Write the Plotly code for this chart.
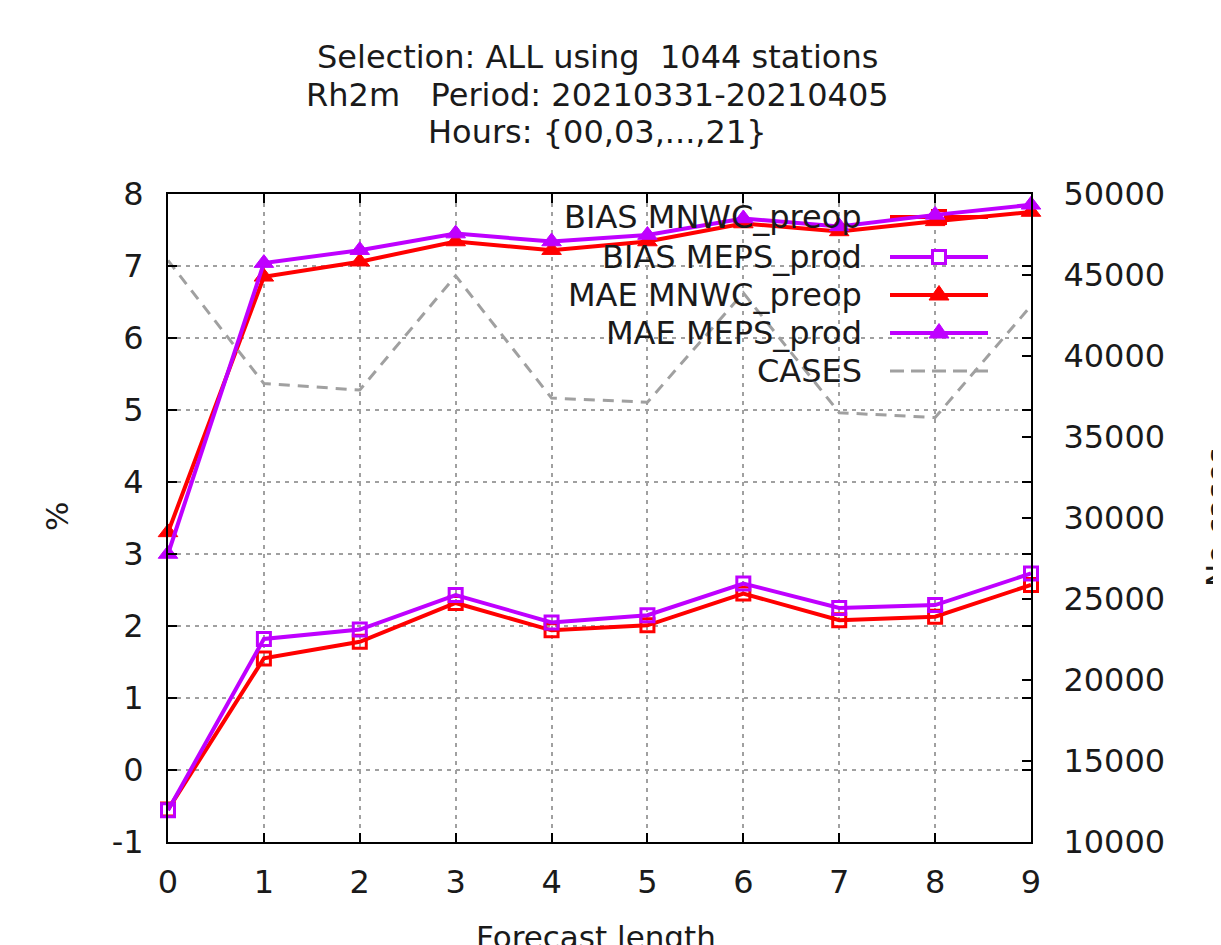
import plotly.graph_objects as go

# ---------------- data ----------------
lead = [0, 1, 2, 3, 4, 5, 6, 7, 8, 9]
bias_mnwc = [-0.55, 1.55, 1.78, 2.32, 1.94, 2.01, 2.45, 2.08, 2.13, 2.57]
bias_meps = [-0.56, 1.82, 1.95, 2.43, 2.05, 2.15, 2.59, 2.25, 2.29, 2.73]
mae_mnwc = [3.30, 6.85, 7.06, 7.34, 7.22, 7.34, 7.59, 7.48, 7.62, 7.75]
mae_meps = [3.00, 7.04, 7.22, 7.45, 7.34, 7.43, 7.66, 7.55, 7.71, 7.85]
cases = [45900, 38300, 37900, 44950, 37400, 37150, 43900, 36500, 36200, 43100]

names = ["BIAS MNWC_preop", "BIAS MEPS_prod", "MAE MNWC_preop", "MAE MEPS_prod", "CASES"]
x_ticks = list(range(0, 10))
y1_ticks = list(range(-1, 9))
y2_ticks = list(range(10000, 50001, 5000))

title_lines = ["Selection: ALL using\u00a0\u00a01044 stations",
               "Rh2m\u00a0\u00a0\u00a0Period: 20210331-20210405",
               "Hours: {00,03,...,21}"]

# ---------------- style ----------------
RED = "#ff0000"
PURP = "#bf00ff"
GRAY = "#a0a0a0"
FONT = "DejaVu Sans"
TXT = "#1a1a1a"
OFF = 8  # page body margin
W, H = 1221 - OFF, 945 - OFF
# plot area in window pixels
L, R, T, B = 168, 1031, 194, 842


def px(xp):
    return (xp - L) / (R - L)


def py(yp):
    return (B - yp) / (B - T)


fig = go.Figure()

series = [
    (bias_mnwc, RED, "square-open", 13),
    (bias_meps, PURP, "square-open", 13),
    (mae_mnwc, RED, "triangle-up", 17),
    (mae_meps, PURP, "triangle-up", 17),
]
for (vals, col, sym, sz), nm in zip(series, names[:4]):
    fig.add_trace(go.Scatter(
        x=lead, y=vals, name=nm, mode="lines+markers", yaxis="y",
        line=dict(color=col, width=4),
        marker=dict(symbol=sym, size=sz, color=col,
                    line=dict(color=col, width=3 if "open" in sym else 1)),
        showlegend=False, cliponaxis=False,
    ))

fig.add_trace(go.Scatter(
    x=lead, y=cases, name=names[4], mode="lines", yaxis="y2",
    line=dict(color=GRAY, width=3, dash="11px,8px"),
    showlegend=False,
))

axis_common = dict(
    showline=True, linecolor="black", linewidth=2,
    ticks="inside", ticklen=9, tickwidth=2, tickcolor="black",
    tickfont=dict(family=FONT, size=32, color=TXT),
    zeroline=False,
)

fig.update_layout(
    width=W, height=H,
    margin=dict(l=L - OFF, r=W - (R - OFF), t=T - OFF, b=H - (B - OFF), pad=0),
    paper_bgcolor="white", plot_bgcolor="rgba(0,0,0,0)",
    font=dict(family=FONT, color=TXT),
    xaxis=dict(range=[0, 9], tickmode="array", tickvals=x_ticks,
               ticktext=[str(v) for v in x_ticks], mirror="ticks",
               showgrid=True, gridcolor=GRAY, gridwidth=1.5, griddash="4px,5px",
               ticklabelstandoff=11, **axis_common),
    yaxis=dict(range=[-1, 8], tickmode="array", tickvals=y1_ticks,
               ticktext=[str(v) for v in y1_ticks], mirror="ticks",
               showgrid=True, gridcolor=GRAY, gridwidth=1.5, griddash="4px,5px",
               ticklabelstandoff=16, **axis_common),
    yaxis2=dict(range=[10000, 50000], tickmode="array", tickvals=y2_ticks,
                ticktext=[str(v) for v in y2_ticks], overlaying="y", side="right",
                showgrid=False, ticklabelstandoff=24, **axis_common),
)

ann = []
# title, one annotation per line
for line, yc in zip(title_lines, [57, 95, 132]):
    ann.append(dict(text=line, xref="paper", yref="paper",
                    x=px(597), y=py(yc), xanchor="center", yanchor="middle",
                    showarrow=False, font=dict(family=FONT, size=32, color=TXT)))
# axis titles
ann.append(dict(text="%", xref="paper", yref="paper", x=px(57), y=py(517),
                textangle=-90, showarrow=False, xanchor="center", yanchor="middle",
                font=dict(family=FONT, size=31, color=TXT)))
ann.append(dict(text="No cases", xref="paper", yref="paper", x=px(1217), y=py(518),
                textangle=-90, showarrow=False, xanchor="center", yanchor="middle",
                font=dict(family=FONT, size=31, color=TXT)))
ann.append(dict(text="Forecast length", xref="paper", yref="paper", x=px(596), y=py(937),
                showarrow=False, xanchor="center", yanchor="middle",
                font=dict(family=FONT, size=31, color=TXT)))

# custom gnuplot-like key: text right-aligned, sample to the right
rows = [217, 257, 295, 333, 371]
key_txt_right = 864
s0, s1, sc = 890, 988, 939
key_styles = [
    (RED, "square"), (PURP, "square"), (RED, "tri"), (PURP, "tri"), (GRAY, "dash"),
]
shapes = []
for nm, yrow, (col, kind) in zip(names, rows, key_styles):
    ann.append(dict(text=nm, xref="paper", yref="paper", x=px(key_txt_right), y=py(yrow),
                    xanchor="right", yanchor="middle", showarrow=False,
                    font=dict(family=FONT, size=32, color=TXT)))
    layer = "below" if yrow == rows[0] else "above"
    if kind == "dash":
        shapes.append(dict(type="line", xref="paper", yref="paper",
                           x0=px(s0), x1=px(s1), y0=py(yrow), y1=py(yrow),
                           line=dict(color=GRAY, width=3, dash="14px,7px"), layer=layer))
        continue
    shapes.append(dict(type="line", xref="paper", yref="paper",
                       x0=px(s0), x1=px(s1), y0=py(yrow), y1=py(yrow),
                       line=dict(color=col, width=4), layer=layer))
    if kind == "square":
        shapes.append(dict(type="rect", xref="paper", yref="paper",
                           x0=px(sc - 6.5), x1=px(sc + 6.5), y0=py(yrow - 6.5), y1=py(yrow + 6.5),
                           line=dict(color=col, width=3), fillcolor="white", layer=layer))
    else:
        path = "M {} {} L {} {} L {} {} Z".format(
            px(sc - 10), py(yrow + 5), px(sc + 10), py(yrow + 5), px(sc), py(yrow - 9.5))
        shapes.append(dict(type="path", xref="paper", yref="paper", path=path,
                           line=dict(color=col, width=1), fillcolor=col, layer=layer))

fig.update_layout(annotations=ann, shapes=shapes)
fig.write_html("out.html")
